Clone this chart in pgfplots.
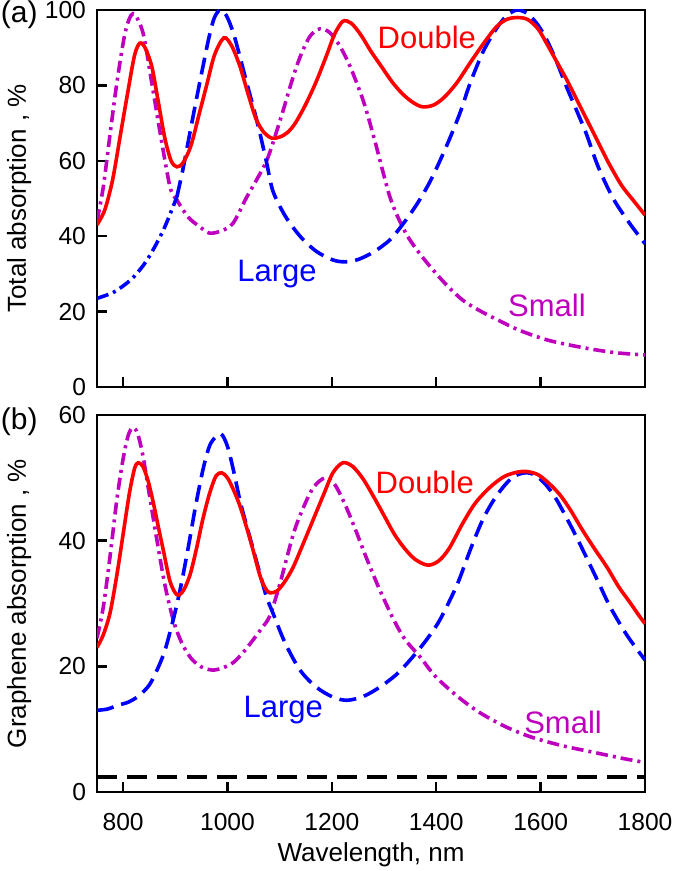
\documentclass[border=0pt]{standalone}
\usepackage{pgfplots}
\pgfplotsset{compat=1.18}
\usepackage{fontspec}
\setmainfont{Liberation Sans}
\definecolor{smallc}{RGB}{190,0,190}
\definecolor{largec}{RGB}{0,0,255}
\definecolor{doublec}{RGB}{255,0,0}

\tikzset{
  curve/.style={line width=1.8pt, smooth},
  dashl/.style={dash pattern=on 8.5pt off 4pt},
  dashdotl/.style={dash pattern=on 6pt off 2.5pt on 1.5pt off 2.5pt},
  lbl/.style={font=\fontsize{15.5}{17}\selectfont},
}
\pgfplotsset{
  panel/.style={
    scale only axis,
    width=274pt, height=188.5pt,
    xmin=750, xmax=1800,
    xtick={800,1000,1200,1400,1600,1800},
    tick align=inside,
    xtick pos=bottom, ytick pos=left,
    major tick length=5pt,
    clip mode=individual,
    axis line style={line width=1.2pt},
    every tick/.style={black, line width=1.2pt},
    tick label style={font=\fontsize{12.3}{14}\selectfont},
    label style={font=\fontsize{13}{15}\selectfont},
    /pgf/number format/assume math mode=true,
    /pgf/number format/1000 sep={},
    ylabel style={at={(axis description cs:-0.142,0.5)}, anchor=center},
    yticklabel style={xshift=-2pt},
  },
}

\begin{document}
\begin{tikzpicture}

% ---------- (b) graphene absorption ----------
\begin{axis}[panel, at={(0,0)},
    ymin=0, ymax=60, ytick={0,20,40,60},
    xticklabel style={yshift=-7pt},
    xlabel={Wavelength, nm},
    xlabel style={at={(axis description cs:0.5,-0.167)}, anchor=center},
    ylabel={Graphene absorption , \%}]

  % Small
  \addplot[curve, dashdotl, smallc] coordinates {
    (750,24.5) (762,29.4) (775,37.5) (788,46.5) (800,53) (810,56.8) (819,58)
    (828,57) (838,53.5) (850,47.5) (865,40) (880,33) (896,27.4) (912,23.8)
    (930,21.3) (950,19.9) (972,19.4) (992,19.8) (1011,20.6) (1030,22.2)
    (1049,24.2) (1065,26) (1081,28) (1100,33) (1126,41) (1145,45.2)
    (1165,48.5) (1187,50) (1205,49) (1225,45.8) (1245,41.8) (1265,37.5)
    (1290,32.5) (1318,27.5) (1340,24.3) (1369,21.5) (1395,18.7) (1420,16.7)
    (1450,14.6) (1484,12.6) (1530,10.5) (1580,8.8) (1640,7.4) (1708,6.2)
    (1760,5.3) (1800,4.7)
  };
  % Large
  \addplot[curve, dashl, largec] coordinates {
    (750,13) (770,13.2) (790,13.8) (810,14.3) (830,15.3) (850,17) (865,19.4)
    (880,22.5) (896,27.4) (910,32.5) (925,39) (940,46) (955,52) (968,55.5)
    (987,57) (1000,55) (1012,51) (1025,46) (1043,40.5) (1062,34.8)
    (1075,31) (1087,28.5) (1110,23.8) (1139,19.4) (1170,16.7) (1202,15.1)
    (1229,14.6) (1260,15.2) (1292,16.7) (1325,18.8) (1355,21.5) (1382,24.3)
    (1407,27.4) (1440,33) (1465,38.5) (1490,43.5) (1516,47.2) (1545,50)
    (1570,50.8) (1590,50.4) (1610,48.9) (1630,46.6) (1660,42) (1681,38.5)
    (1710,33.5) (1733,29.5) (1765,25) (1800,21)
  };
  % Double
  \addplot[curve, doublec] coordinates {
    (750,23) (762,25) (775,28.5) (788,34.5) (800,41) (812,47.5) (822,51.5)
    (829,52.4) (838,51.8) (848,49.5) (858,46) (868,42) (877,38.5) (890,33.5)
    (903,31.4) (915,32) (928,34.5) (940,38.5) (953,43.5) (966,47.6)
    (978,50.3) (989,50.8) (1000,50) (1012,48) (1024,45.5) (1037,42)
    (1049,38.5) (1062,34.5) (1072,32.5) (1081,31.7) (1095,32) (1110,33.5)
    (1126,35.8) (1145,39.5) (1165,43.5) (1185,47.5) (1202,50.8) (1221,52.4)
    (1240,51.8) (1260,49.8) (1280,47) (1300,44) (1320,41) (1340,38.7)
    (1360,37) (1384,36.1) (1405,36.8) (1425,38.8) (1451,42.8) (1475,46)
    (1503,48.5) (1530,50.2) (1555,50.9) (1574,51) (1595,50.5) (1615,49.2)
    (1637,47.3) (1657,44.9) (1680,41.7) (1705,38.5) (1727,35.8) (1750,32.6)
    (1770,30.3) (1790,27.9) (1800,26.8)
  };
  % bare graphene
  \addplot[line width=1.8pt, black, dash pattern=on 10pt off 5pt] coordinates {
    (750,2.4) (1800,2.4)
  };

  \node[doublec, lbl] at (axis cs:1378,49.3) {Double};
  \node[largec, lbl] at (axis cs:1107,13) {Large};
  \node[smallc, lbl] at (axis cs:1643,11.1) {Small};
  \node[font=\fontsize{15}{17}\selectfont] at (axis description cs:-0.142,0.981) {(b)};
\end{axis}

% ---------- (a) total absorption ----------
\begin{axis}[panel, at={(0,202.5pt)},
    ymin=0, ymax=100, ytick={0,20,40,60,80,100},
    xticklabels={},
    ylabel={Total absorption , \%}]

  % Small
  \addplot[curve, dashdotl, smallc] coordinates {
    (750,44) (762,53) (775,67) (788,80.6) (804,94) (819,99) (838,94)
    (855,80.6) (871,67.4) (890,53) (903,49.6) (925,45) (947,42.5) (966,40.8)
    (990,41.5) (1011,43.5) (1037,50.4) (1056,55) (1075,60) (1090,66)
    (1107,73.5) (1123,81) (1139,87.5) (1158,93) (1177,95) (1196,94)
    (1215,90.5) (1235,85) (1260,76) (1280,66.5) (1298,57) (1311,50.5)
    (1325,45.5) (1345,40) (1365,36) (1388,32) (1420,27) (1451,23)
    (1480,20.5) (1516,17.9) (1560,15) (1612,12.5) (1660,11) (1708,9.8)
    (1750,9) (1800,8.5)
  };
  % Large (dash-dot start, then dashed)
  \addplot[curve, dashdotl, largec] coordinates {
    (750,23.5) (780,25) (800,26.8) (819,29) (840,32.5) (858,36.5) (880,42.5)
    (903,50.4)
  };
  \addplot[curve, dashl, largec] coordinates {
    (903,50.4) (915,58) (928,67.4) (940,76) (953,85) (965,93) (975,98)
    (986,100) (998,98.5) (1011,94) (1024,87.5) (1037,80.6) (1050,74)
    (1062,67.4) (1075,59.5) (1087,52) (1110,45.5) (1139,40) (1170,36)
    (1202,33.7) (1225,33.2) (1250,33.8) (1280,35.8) (1311,39) (1335,43)
    (1363,48.5) (1390,55) (1420,64) (1445,72.5) (1465,80.6) (1490,89)
    (1515,95) (1535,98.5) (1555,100) (1575,99) (1595,96) (1612,92)
    (1630,86.5) (1650,79.5) (1670,73) (1688,67) (1710,58.5) (1739,50)
    (1770,43.5) (1800,38)
  };
  % Double
  \addplot[curve, doublec] coordinates {
    (750,43) (765,47) (780,55) (795,67) (810,79) (822,88) (832,91.2)
    (842,90) (855,85) (867,76) (880,66) (892,60) (903,58.4) (915,59.5)
    (930,64) (945,72) (960,80) (975,88) (993,92.6) (1008,90.5) (1024,85)
    (1040,77.5) (1055,71) (1070,67.5) (1085,66) (1100,66.3) (1115,67.5)
    (1130,70) (1150,75) (1170,81) (1190,88) (1205,93.5) (1221,97)
    (1237,96.5) (1255,93.5) (1275,89) (1295,85) (1315,81) (1335,77.8)
    (1355,75.5) (1374,74.3) (1395,74.8) (1415,76.8) (1439,80.6) (1465,86)
    (1490,91) (1515,95.5) (1535,97.5) (1555,98) (1575,97.5) (1595,95)
    (1612,91) (1630,86.5) (1650,81.5) (1670,76) (1690,70.5) (1710,65)
    (1730,59.5) (1755,53.5) (1777,49.6) (1800,45.6)
  };

  \node[doublec, lbl] at (axis cs:1382,92.6) {Double};
  \node[largec, lbl] at (axis cs:1095,30) {Large};
  \node[smallc, lbl] at (axis cs:1612,21.7) {Small};
  \node[font=\fontsize{15}{17}\selectfont] at (axis description cs:-0.142,0.987) {(a)};
\end{axis}

\pgfresetboundingbox
\path (-48.5pt,-39.5pt) rectangle (289pt,396pt);
\end{tikzpicture}
\end{document}
